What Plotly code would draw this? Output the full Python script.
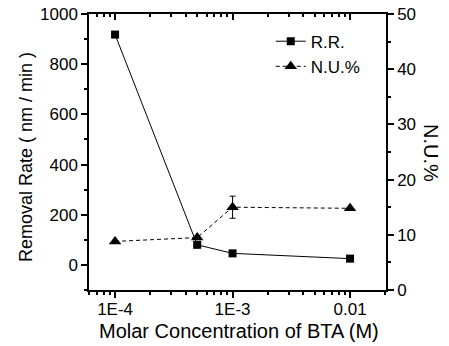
import plotly.graph_objects as go

conc = [1e-4, 5e-4, 1e-3, 1e-2]
removal_rate = [918, 80, 46, 25]
nu_percent = [8.8, 9.5, 15.0, 14.8]
nu_error = [0, 0, 2.0, 0]
x_tick_vals = [1e-4, 1e-3, 1e-2]
x_tick_text = ["1E-4", "1E-3", "0.01"]

FONT = "Liberation Sans, Arial, sans-serif"
xrange_log = [-4.222, -1.694]

L, R, T, B = 89, 63, 14, 56
W, H = 449, 346
pw = W - L - R
ph = H - T - B

def px(x):
    return (x - L) / pw

def py(y):
    return (H - B - y) / ph

fig = go.Figure()
fig.add_trace(go.Scatter(
    x=conc, y=removal_rate, name="R.R.", mode="lines+markers",
    line=dict(color="black", width=1),
    marker=dict(symbol="square", size=8, color="black"),
))
fig.add_trace(go.Scatter(
    x=conc, y=nu_percent, name="N.U.%", mode="lines+markers", yaxis="y2",
    line=dict(color="black", width=1, dash="4px,3px"),
    marker=dict(symbol="triangle-up", size=11, color="black"),
    error_y=dict(type="data", array=nu_error, color="black", thickness=1, width=3),
))
# invisible trace for top axis
fig.add_trace(go.Scatter(x=conc, y=removal_rate, xaxis="x2", mode="markers",
                         marker=dict(opacity=0), showlegend=False, hoverinfo="skip"))

fig.update_layout(
    width=W, height=H,
    margin=dict(l=L, r=R, t=T, b=B, autoexpand=False),
    paper_bgcolor="white", plot_bgcolor="white",
    font=dict(family=FONT, size=17, color="black"),
    showlegend=True,
    legend=dict(x=0.612, y=0.965, xanchor="left", yanchor="top",
                bgcolor="rgba(0,0,0,0)", font=dict(size=17, family=FONT),
                tracegroupgap=0),
    xaxis=dict(
        type="log", range=xrange_log, automargin=False,
        tickvals=x_tick_vals, ticktext=x_tick_text,
        ticks="outside", ticklen=6, tickwidth=1.5, tickcolor="black",
        minor=dict(ticks="outside", ticklen=3, tickcolor="black", dtick="D1", showgrid=False),
        showline=True, linecolor="black", linewidth=1.5,
        showgrid=False, zeroline=False,
        tickfont=dict(size=17), ticklabelstandoff=-3,
    ),
    xaxis2=dict(
        type="log", range=xrange_log, overlaying="x", side="top", automargin=False,
        tickvals=x_tick_vals, showticklabels=False,
        ticks="inside", ticklen=6, tickwidth=1.5, tickcolor="black",
        minor=dict(ticks="inside", ticklen=3, tickcolor="black", dtick="D1", showgrid=False),
        showline=True, linecolor="black", linewidth=1.5,
        showgrid=False, zeroline=False,
    ),
    yaxis=dict(
        range=[-100, 1000], tickvals=[0, 200, 400, 600, 800, 1000], automargin=False,
        ticks="outside", ticklen=6, tickwidth=1.5, tickcolor="black",
        minor=dict(ticks="outside", ticklen=3, tickcolor="black", dtick=100, showgrid=False),
        showline=True, linecolor="black", linewidth=1.5,
        showgrid=False, zeroline=False,
        tickfont=dict(size=17),
    ),
    yaxis2=dict(
        range=[0, 50], tickvals=[0, 10, 20, 30, 40, 50], overlaying="y", side="right",
        automargin=False,
        ticks="outside", ticklen=6, tickwidth=1.5, tickcolor="black",
        minor=dict(ticks="outside", ticklen=3, tickcolor="black", dtick=5, showgrid=False),
        showline=True, linecolor="black", linewidth=1.5,
        showgrid=False, zeroline=False,
        tickfont=dict(size=17),
    ),
    annotations=[
        dict(text="N.U.%", textangle=90, x=px(431), y=py(153), xref="paper", yref="paper",
             xanchor="center", yanchor="middle",
             showarrow=False, font=dict(size=20, family=FONT)),
        dict(text="Removal Rate ( nm / min )", textangle=-90, x=px(26), y=py(157),
             xanchor="center", yanchor="middle",
             xref="paper", yref="paper", showarrow=False, font=dict(size=18, family=FONT)),
        dict(text="Molar Concentration of BTA (M)", x=px(239), y=py(331),
             xanchor="center", yanchor="middle",
             xref="paper", yref="paper", showarrow=False, font=dict(size=20, family=FONT)),
    ],
)
fig.write_html("out.html")
